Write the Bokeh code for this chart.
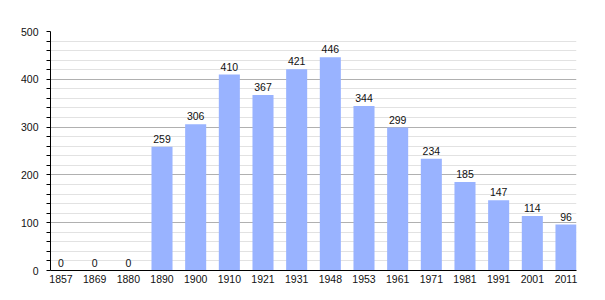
from bokeh.plotting import figure
from bokeh.models import Range1d, FixedTicker, ColumnDataSource
from bokeh.core.properties import value
from bokeh.embed import file_html
from bokeh.resources import INLINE

years = ["1857", "1869", "1880", "1890", "1900", "1910", "1921", "1931",
         "1948", "1953", "1961", "1971", "1981", "1991", "2001", "2011"]
population = [0, 0, 0, 259, 306, 410, 367, 421, 446, 344, 299, 234, 185, 147, 114, 96]
y_ticks = [0, 100, 200, 300, 400, 500]
y_minor = [v for v in range(0, 501, 20) if v % 100 != 0]

BAR_W = 0.625
idx = list(range(len(years)))
left = [i for i in idx]
right = [i + BAR_W for i in idx]
centers = [i + BAR_W / 2 for i in idx]

src = ColumnDataSource(dict(left=left, right=right, center=centers,
                            pop=population, label=[str(v) for v in population]))

p = figure(width=605, height=300, output_backend="svg", toolbar_location=None,
           x_range=Range1d(0, len(years) - 1 + BAR_W), y_range=Range1d(0, 500),
           min_border_left=50, min_border_right=29, min_border_top=31, min_border_bottom=30)
p.outline_line_color = None
p.background_fill_color = "white"

p.quad(left="left", right="right", bottom=0, top="pop", source=src,
       fill_color="#99b3ff", line_color=None)

p.text(x="center", y="pop", text="label", source=src, text_align="center",
       text_baseline="bottom", y_offset=-4, text_font=value("Liberation Sans"),
       text_font_size="10.5px", text_color="#111111")

# x axis
p.xaxis.ticker = FixedTicker(ticks=centers)
p.xaxis.major_label_overrides = {c: y for c, y in zip(centers, years)}
p.xaxis.major_tick_line_color = None
p.xaxis.major_tick_out = 0
p.xaxis.major_tick_in = 0
p.xaxis.minor_tick_line_color = None
p.xaxis.minor_tick_out = 0
p.xaxis.axis_line_color = "#000000"
p.xaxis.axis_line_width = 1
p.xaxis.major_label_standoff = 4
p.xaxis.major_label_text_font = "Liberation Sans"
p.xaxis.major_label_text_font_size = "10.5px"
p.xaxis.major_label_text_color = "#111111"
p.xgrid.grid_line_color = None

# y axis
p.yaxis.ticker = FixedTicker(ticks=y_ticks, minor_ticks=y_minor)
p.yaxis.axis_line_color = "#000000"
p.yaxis.major_tick_line_color = "#000000"
p.yaxis.minor_tick_line_color = "#000000"
p.yaxis.major_tick_out = 4
p.yaxis.major_tick_in = 0
p.yaxis.minor_tick_out = 4
p.yaxis.minor_tick_in = 0
p.yaxis.major_label_standoff = 8
p.yaxis.major_label_text_font = "Liberation Sans"
p.yaxis.major_label_text_font_size = "10.5px"
p.yaxis.major_label_text_color = "#111111"

p.ygrid.grid_line_color = "#b0b0b0"
p.ygrid.grid_line_width = 1
p.ygrid.minor_grid_line_color = "#e2e2e2"
p.ygrid.minor_grid_line_width = 1

open("out.html", "w").write(file_html(p, INLINE))
